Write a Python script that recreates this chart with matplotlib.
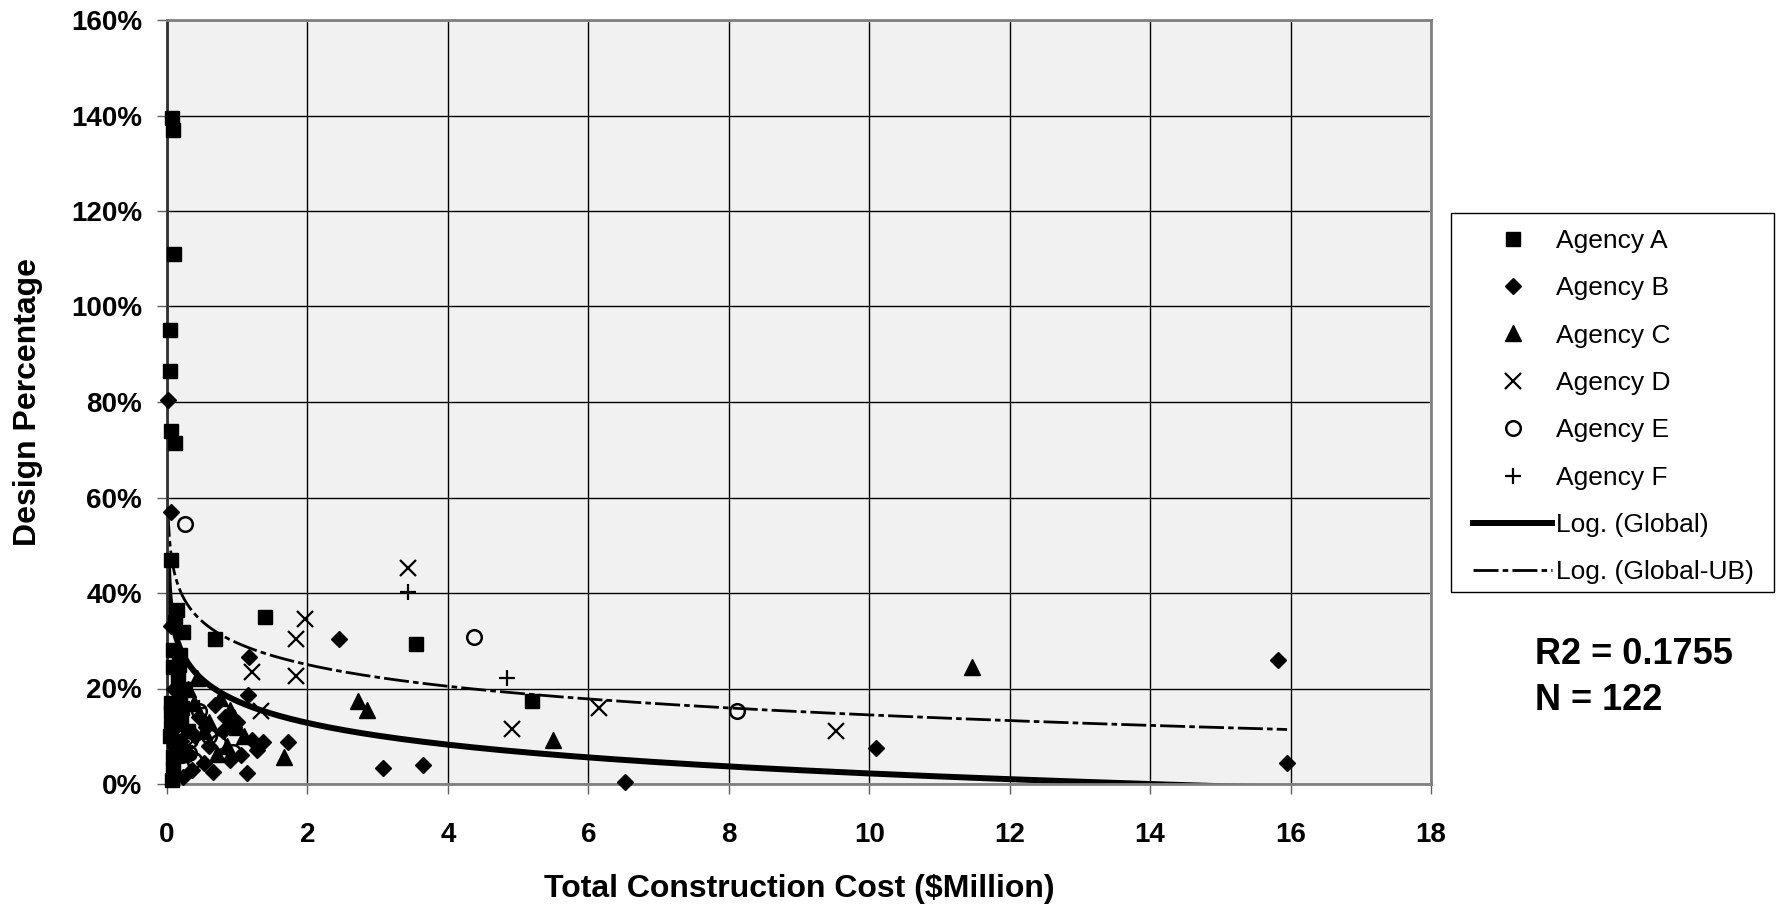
import numpy as np
import matplotlib
matplotlib.use("Agg")
import matplotlib.pyplot as plt
from matplotlib.ticker import FuncFormatter
from matplotlib.patches import Rectangle

plt.rcParams['font.family'] = ['Liberation Sans', 'DejaVu Sans']

# ---------------- data ----------------
A_x = [0.07, 0.08, 0.10, 0.04, 0.04, 0.05, 0.12, 0.05, 1.40, 0.68, 3.55, 5.20,
       0.14, 0.23, 0.09, 0.09, 0.19, 0.05, 0.05, 0.09, 0.07, 0.12, 0.18, 0.25,
       0.15, 0.10, 0.20, 0.06, 0.08, 0.13, 0.30, 0.11, 0.16, 0.22, 0.04, 0.17]
A_y = [139.5, 137.0, 111.0, 95.0, 86.5, 74.0, 71.5, 47.0, 35.0, 30.3, 29.4, 17.3,
       36.5, 31.9, 28.1, 24.6, 19.0, 15.0, 12.0, 5.7, 0.9, 34.0, 27.0, 20.0,
       22.0, 9.0, 13.0, 17.0, 3.0, 8.0, 11.0, 14.0, 6.0, 16.0, 10.0, 25.0]

B_x = [0.01, 0.05, 0.05, 1.17, 2.45, 3.07, 3.65, 6.52, 10.09, 15.82, 15.95,
       1.16, 0.69, 0.83, 1.21, 1.28, 1.14, 0.52, 0.23, 1.73, 1.37, 0.95, 0.40,
       0.60, 0.30, 0.15, 0.10, 0.45, 0.80, 1.05, 0.35, 0.20, 0.55, 0.65, 0.90, 1.00]
B_y = [80.5, 57.0, 33.0, 26.5, 30.4, 3.4, 4.0, 0.5, 7.6, 25.9, 4.5,
       18.7, 16.6, 14.1, 9.3, 7.2, 2.4, 4.5, 1.5, 8.9, 8.9, 12.0, 10.0,
       8.0, 6.0, 25.0, 20.0, 14.0, 11.0, 6.0, 3.0, 9.0, 12.0, 2.5, 5.0, 13.0]

C_x = [11.47, 5.50, 2.72, 2.85, 1.66, 0.43, 0.90, 0.52, 0.71, 0.30, 0.60, 1.00,
       0.85, 0.20, 0.38, 1.10, 0.75, 0.95]
C_y = [24.5, 9.3, 17.4, 15.6, 5.6, 22.2, 15.6, 11.0, 6.2, 20.0, 13.0, 12.0,
       8.0, 9.0, 17.0, 10.0, 18.0, 14.0]

D_x = [3.43, 1.96, 1.83, 1.83, 1.21, 1.34, 4.92, 6.15, 9.53, 0.20, 0.30, 0.12]
D_y = [45.2, 34.5, 30.4, 22.6, 23.5, 15.2, 11.6, 15.9, 11.2, 13.0, 8.0, 10.0]

E_x = [0.26, 4.37, 8.12, 0.45, 0.33, 0.31, 0.73, 0.94, 0.22, 0.38, 0.15, 0.60]
E_y = [54.4, 30.7, 15.2, 15.2, 9.3, 6.5, 8.9, 6.7, 6.0, 5.0, 11.0, 10.0]

F_x = [3.43, 4.84, 0.45, 0.25]
F_y = [40.2, 22.3, 16.0, 8.0]

# logarithmic fits  y = a*ln(x) + b  (in %)
fit_global = (-6.58, 17.36)
fit_ub = (-6.54, 29.53)
fit_range_global = (0.011, 15.95)
fit_range_ub = (0.015, 15.95)

x_ticks = [0, 2, 4, 6, 8, 10, 12, 14, 16, 18]
y_ticks = [0, 20, 40, 60, 80, 100, 120, 140, 160]

# ---------------- figure ----------------
W, H = 1780, 906
fig = plt.figure(figsize=(W/100, H/100), dpi=100)
ax = fig.add_axes([167/W, 1 - 784/H, (1431-167)/W, (784-20)/H])
ax.set_facecolor('#f1f1f1')

ms = dict(color='black', linestyle='none', clip_on=False, zorder=3)
ax.plot(A_x, A_y, marker='s', markersize=10.5, label='Agency A', **ms)
ax.plot(B_x, B_y, marker='D', markersize=8.5, label='Agency B', **ms)
ax.plot(C_x, C_y, marker='^', markersize=11.5, label='Agency C', **ms)
ax.plot(D_x, D_y, marker='x', markersize=11, markeredgewidth=1.6, label='Agency D', **ms)
ax.plot(E_x, E_y, marker='o', markersize=10.5, markerfacecolor='none',
        markeredgewidth=1.8, label='Agency E', **ms)
ax.plot(F_x, F_y, marker='+', markersize=11, markeredgewidth=1.6, label='Agency F', **ms)

xs = np.geomspace(*fit_range_global, 400)
ax.plot(xs, fit_global[0]*np.log(xs) + fit_global[1], color='black', lw=4.3,
        label='Log. (Global)')
xs2 = np.geomspace(*fit_range_ub, 400)
ax.plot(xs2, fit_ub[0]*np.log(xs2) + fit_ub[1], color='black', lw=2.0,
        dashes=(9, 1.5, 2, 1.5), label='Log. (Global-UB)')

ax.set_xlim(0, 18)
ax.set_ylim(0, 160)
ax.set_xticks(x_ticks)
ax.set_yticks(y_ticks)
ax.yaxis.set_major_formatter(FuncFormatter(lambda v, p: f"{int(v)}%"))
ax.grid(True, color='black', lw=1.0)
ax.set_axisbelow(True)
for s in ax.spines.values():
    s.set_color('#808080')
    s.set_linewidth(2)
ax.spines['left'].set_color('#303030')
ax.tick_params(axis='both', direction='out', length=7, width=1, color='#606060',
               labelsize=20)
ax.tick_params(axis='x', pad=20)
ax.tick_params(axis='y', pad=11)
for lab in ax.get_xticklabels() + ax.get_yticklabels():
    lab.set_fontweight('bold')

ax.set_xlabel('Total Construction Cost ($Million)', fontsize=23, fontweight='bold',
              labelpad=19)
ax.set_ylabel('Design Percentage', fontsize=23, fontweight='bold', labelpad=20)

# legend frame drawn separately, content placed inside
fig.patches.append(Rectangle((1451/W, 1 - 592/H), (1774-1451)/W, (592-213)/H,
                             transform=fig.transFigure, fill=False,
                             edgecolor='black', lw=1.0))
leg = fig.legend(loc='upper left', bbox_to_anchor=(1473/W, 1 - 229/H),
                 bbox_transform=fig.transFigure, borderaxespad=0, frameon=False,
                 fontsize=19, handlelength=3.0, handletextpad=0.16,
                 labelspacing=0.885, markerscale=1.0, borderpad=0)

fig.text(1535/W, 1 - 654/H, 'R2 = 0.1755', fontsize=26, fontweight='bold',
         va='center', ha='left')
fig.text(1535/W, 1 - 700/H, 'N = 122', fontsize=26, fontweight='bold',
         va='center', ha='left')

fig.savefig('out.png', dpi=100, facecolor='white')
